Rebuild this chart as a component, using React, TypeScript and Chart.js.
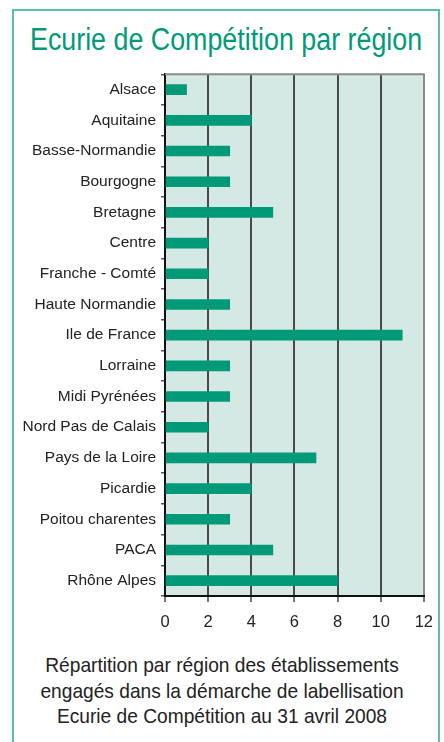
import React, { useEffect, useLayoutEffect, useRef } from "react";
import { Chart, registerables } from "chart.js";

Chart.register(...registerables);

const categories: string[] = [
  "Alsace",
  "Aquitaine",
  "Basse-Normandie",
  "Bourgogne",
  "Bretagne",
  "Centre",
  "Franche - Comté",
  "Haute Normandie",
  "Ile de France",
  "Lorraine",
  "Midi Pyrénées",
  "Nord Pas de Calais",
  "Pays de la Loire",
  "Picardie",
  "Poitou charentes",
  "PACA",
  "Rhône Alpes",
];

const counts: number[] = [1, 4, 3, 3, 5, 2, 2, 3, 11, 3, 3, 2, 7, 4, 3, 5, 8];

const xMin = 0;
const xMax = 12;
const xStep = 2;

const titleText = "Ecurie de Compétition par région";
const captionLines: string[] = [
  "Répartition par région des établissements",
  "engagés dans la démarche de labellisation",
  "Ecurie de Compétition au 31 avril 2008",
];

const GREEN = "#009a78";
const FONT = "'Liberation Sans', Arial, sans-serif";

const plotBg = {
  id: "plotBg",
  beforeDraw(chart: any) {
    const { ctx, chartArea } = chart;
    if (!chartArea) return;
    ctx.save();
    ctx.fillStyle = "#d4e9e3";
    ctx.fillRect(chartArea.left, chartArea.top, chartArea.right - chartArea.left, chartArea.bottom - chartArea.top);
    ctx.restore();
  },
  beforeDatasetsDraw(chart: any) {
    const { ctx, chartArea } = chart;
    ctx.save();
    ctx.strokeStyle = "#8a8a8a";
    ctx.lineWidth = 2;
    ctx.beginPath();
    ctx.moveTo(chartArea.left, chartArea.top);
    ctx.lineTo(chartArea.right + 1, chartArea.top);
    ctx.stroke();
    ctx.restore();
  },
};

export default function App() {
  const canvasRef = useRef<HTMLCanvasElement | null>(null);
  const titleRef = useRef<HTMLSpanElement | null>(null);

  useLayoutEffect(() => {
    const el = titleRef.current;
    if (el) {
      const w = el.offsetWidth;
      if (w > 0) el.style.transform = `scaleX(${392 / w})`;
    }
  }, []);

  useEffect(() => {
    if (!canvasRef.current) return;
    const chart = new Chart(canvasRef.current, {
      type: "bar",
      data: {
        labels: categories,
        datasets: [
          {
            data: counts,
            backgroundColor: GREEN,
            borderWidth: 0,
            barThickness: 10,
          },
        ],
      },
      plugins: [plotBg],
      options: {
        indexAxis: "y",
        animation: false,
        responsive: false,
        maintainAspectRatio: false,
        layout: { padding: { top: 14, right: 19, left: 0, bottom: 4 } },
        plugins: {
          legend: { display: false },
          tooltip: { enabled: false },
          title: { display: false },
        },
        scales: {
          x: {
            type: "linear",
            min: xMin,
            max: xMax,
            ticks: {
              stepSize: xStep,
              color: "#222",
              font: { family: FONT, size: 16.5 },
              padding: 11,
            },
            grid: {
              color: (c: any) => (c.tick && c.tick.value === xMax ? "#8a8a8a" : "#4a4a4a"),
              lineWidth: 2,
              tickLength: 6,
              tickColor: "#777",
            },
            border: { display: true, color: "#111", width: 2 },
            afterFit: (scale: any) => {
              scale.height = 40;
            },
          },
          y: {
            type: "category",
            ticks: {
              color: "#222",
              font: { family: FONT, size: 15.5 },
              padding: 5,
            },
            grid: {
              drawOnChartArea: false,
              offset: true,
              tickLength: 4,
              color: "#555",
              lineWidth: 1.5,
            },
            border: { display: true, color: "#111", width: 2 },
            afterFit: (scale: any) => {
              scale.width = 165;
            },
          },
        },
      },
    } as any);
    return () => chart.destroy();
  }, []);

  return (
    <div
      style={{
        position: "absolute",
        left: 0,
        top: 0,
        width: 444,
        height: 742,
        overflow: "hidden",
        background: "#fff",
      }}
    >
      <div
        style={{
          position: "absolute",
          left: 12,
          top: 9,
          width: 428,
          height: 780,
          border: "2px solid #5bbfa3",
          boxSizing: "border-box",
        }}
      />
      <div
        style={{
          position: "absolute",
          left: 30,
          top: 24,
          whiteSpace: "nowrap",
          fontFamily: FONT,
          fontSize: 31,
          lineHeight: "31px",
          color: GREEN,
        }}
      >
        <span ref={titleRef} style={{ display: "inline-block", transformOrigin: "0 0" }}>
          {titleText}
        </span>
      </div>
      <canvas
        ref={canvasRef}
        width={444}
        height={580}
        style={{ position: "absolute", left: 0, top: 60, width: 444, height: 580 }}
      />
      <div
        style={{
          position: "absolute",
          left: 0,
          top: 652,
          width: 444,
          textAlign: "center",
          fontFamily: FONT,
          fontSize: 21,
          lineHeight: "25.5px",
          color: "#222",
          transform: "scaleX(0.912)",
          transformOrigin: "222px 0",
        }}
      >
        {captionLines.map((l, i) => (
          <div key={i}>{l}</div>
        ))}
      </div>
    </div>
  );
}
